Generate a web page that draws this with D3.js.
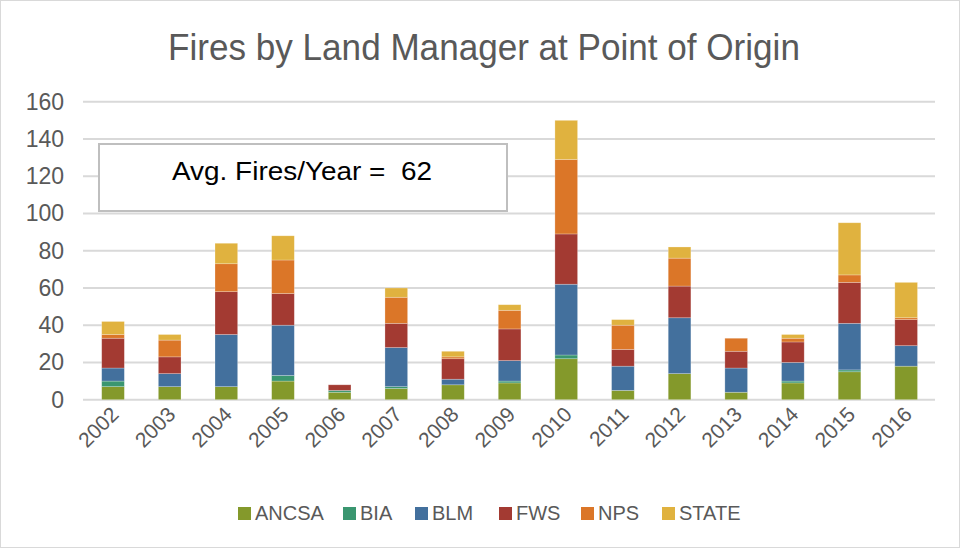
<!DOCTYPE html>
<html>
<head>
<meta charset="utf-8">
<script src="https://cdn.jsdelivr.net/npm/d3@7"></script>
<style>
  body { margin: 0; background: #fff; }
  svg { display: block; }
</style>
</head>
<body>
<svg width="961" height="549"></svg>
<script>
var years = ['2002', '2003', '2004', '2005', '2006', '2007', '2008', '2009', '2010', '2011', '2012', '2013', '2014', '2015', '2016'];
var managers = ['ANCSA', 'BIA', 'BLM', 'FWS', 'NPS', 'STATE'];
var ancsa = [7, 7, 7, 10, 4, 6, 8, 9, 22, 5, 14, 4, 9, 15, 18];
var bia   = [3, 0, 0, 3, 1, 1, 0, 1, 2, 0, 0, 0, 1, 1, 0];
var blm   = [7, 7, 28, 27, 0, 21, 3, 11, 38, 13, 30, 13, 10, 25, 11];
var fws   = [16, 9, 23, 17, 3, 13, 11, 17, 27, 9, 17, 9, 11, 22, 14];
var nps   = [2, 9, 15, 18, 0, 14, 1, 10, 40, 13, 15, 7, 2, 4, 1];
var state = [7, 3, 11, 13, 0, 5, 3, 3, 21, 3, 6, 0, 2, 28, 19];
var yTicks = [0, 20, 40, 60, 80, 100, 120, 140, 160];
var avgLabel = 'Avg. Fires/Year =  62';

var colors = ['#84992b', '#3a9670', '#43709d', '#a33a32', '#db7628', '#e0b23f'];

var series = [ancsa, bia, blm, fws, nps, state];
var rows = years.map(function(y, i) {
    var r = { year: y };
    managers.forEach(function(m, k) { r[m] = series[k][i]; });
    return r;
});

var svg = d3.select('svg');

// squeeze a text horizontally so it spans the given width (no narrow font installed)
function condense(sel, cx, cy, width) {
    var w = sel.node().getComputedTextLength();
    sel.attr('x', 0).attr('y', 0)
        .attr('transform', 'translate(' + cx + ',' + cy + ') scale(' + (width / w) + ',1)');
}

// outer frame
svg.append('rect')
    .attr('x', 0.5).attr('y', 0.5)
    .attr('width', 959).attr('height', 547)
    .attr('fill', 'none')
    .attr('stroke', '#d9d9d9');

var title = svg.append('text')
    .attr('text-anchor', 'middle')
    .style('font-family', '"Liberation Sans", Arial, sans-serif')
    .style('font-size', '37px')
    .attr('fill', '#595959')
    .text('Fires by Land Manager at Point of Origin');
condense(title, 484, 60, 632);

var x = d3.scaleBand()
    .domain(years)
    .range([84.7, 934.5])
    .paddingInner(0.6)
    .paddingOuter(0.3);

var y = d3.scaleLinear()
    .domain([0, 160])
    .range([399.7, 101.7]);

// gridlines
svg.append('g')
    .selectAll('line')
    .data(yTicks)
    .enter().append('line')
    .attr('x1', 83).attr('x2', 935)
    .attr('y1', function(d) { return y(d); })
    .attr('y2', function(d) { return y(d); })
    .attr('stroke', '#d9d9d9')
    .attr('stroke-width', 2);

var yAxis = svg.append('g')
    .attr('transform', 'translate(64,0)')
    .call(d3.axisLeft(y).tickValues(yTicks).tickSize(0).tickPadding(0));
yAxis.select('.domain').remove();
yAxis.selectAll('text')
    .style('font-family', '"Liberation Sans", Arial, sans-serif')
    .style('font-size', '23px')
    .attr('fill', '#595959');

var xAxis = svg.append('g')
    .attr('transform', 'translate(0,' + y(0) + ')')
    .call(d3.axisBottom(x).tickSize(0).tickPadding(0));
xAxis.select('.domain').remove();
xAxis.selectAll('text')
    .style('font-family', '"Liberation Sans", Arial, sans-serif')
    .style('font-size', '21px')
    .attr('fill', '#595959')
    .attr('text-anchor', 'end')
    .attr('dy', null)
    .attr('transform', 'translate(7,16) rotate(-45)');

var stack = d3.stack().keys(managers);
var color = d3.scaleOrdinal(managers, colors);

svg.append('g')
    .selectAll('g')
    .data(stack(rows))
    .enter().append('g')
    .attr('fill', function(d) { return color(d.key); })
    .selectAll('rect')
    .data(function(d) { return d; })
    .enter().append('rect')
    .attr('x', function(d) { return x(d.data.year); })
    .attr('width', x.bandwidth())
    .attr('y', function(d) { return y(d[1]); })
    .attr('height', function(d) { return y(d[0]) - y(d[1]); })
    .attr('stroke', 'rgba(255,255,255,0.35)')
    .attr('stroke-width', 0.7);

// average annotation box
svg.append('rect')
    .attr('x', 99).attr('y', 144)
    .attr('width', 408).attr('height', 67)
    .attr('fill', '#fff')
    .attr('stroke', '#bfbfbf')
    .attr('stroke-width', 2);
var avg = svg.append('text')
    .style('font-family', '"Liberation Sans", Arial, sans-serif')
    .style('font-size', '25px')
    .attr('fill', '#000')
    .attr('xml:space', 'preserve')
    .text(avgLabel);
condense(avg, 172, 180, 260);

// legend
var legendX = [238, 343, 415, 499, 581, 662];
var legend = svg.append('g')
    .selectAll('g')
    .data(managers)
    .enter().append('g')
    .attr('transform', function(d, i) { return 'translate(' + legendX[i] + ',507)'; });
legend.append('rect')
    .attr('width', 13).attr('height', 13)
    .attr('fill', function(d) { return color(d); });
legend.append('text')
    .attr('x', 17).attr('y', 13)
    .style('font-family', '"Liberation Sans", Arial, sans-serif')
    .style('font-size', '20px')
    .attr('fill', '#595959')
    .text(function(d) { return d; });
</script>
</body>
</html>
